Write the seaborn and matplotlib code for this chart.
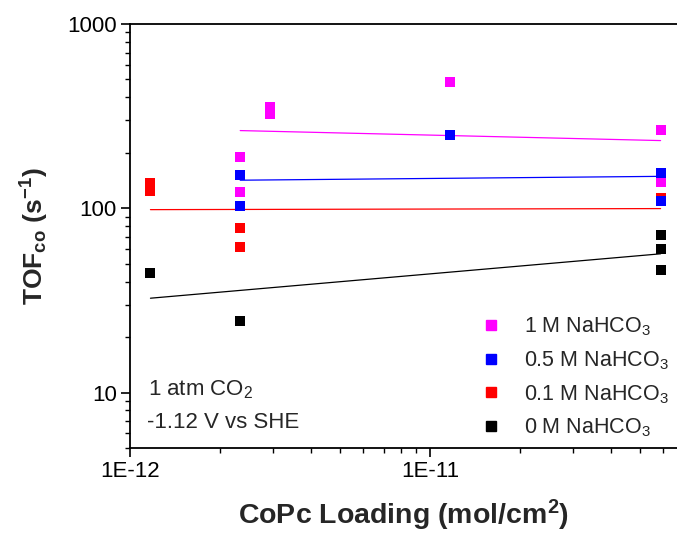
import numpy as np
import pandas as pd
import matplotlib
matplotlib.use("Agg")
import matplotlib.pyplot as plt
from matplotlib.lines import Line2D
import seaborn as sns

# ---- data ----
series_names = ["1 M NaHCO$_3$", "0.5 M NaHCO$_3$", "0.1 M NaHCO$_3$", "0 M NaHCO$_3$"]
series_colors = ["#FF00FF", "#0000FF", "#FF0000", "#000000"]

x_1M = [2.33e-12, 2.33e-12, 2.92e-12, 2.92e-12, 1.17e-11, 5.87e-11, 5.87e-11]
y_1M = [189, 123, 355, 323, 485, 266, 139]

x_05M = [2.33e-12, 2.33e-12, 1.17e-11, 5.87e-11, 5.87e-11]
y_05M = [151, 103, 251, 156, 109]

x_01M = [1.17e-12, 1.17e-12, 2.33e-12, 2.33e-12, 5.87e-11]
y_01M = [137, 124, 78, 61.5, 113]

x_0M = [1.17e-12, 2.33e-12, 5.87e-11, 5.87e-11, 5.87e-11]
y_0M = [44.5, 24.5, 71.3, 59.9, 46.4]

# fitted trend lines (end points)
fit_x_1M = [2.33e-12, 5.87e-11]
fit_y_1M = [264, 233]
fit_x_05M = [2.33e-12, 5.87e-11]
fit_y_05M = [142, 149]
fit_x_01M = [1.17e-12, 5.87e-11]
fit_y_01M = [98.3, 99.6]
fit_x_0M = [1.17e-12, 5.87e-11]
fit_y_0M = [32.5, 56.6]

x_ticks = [1e-12, 1e-11]
x_ticklabels = ["1E-12", "1E-11"]
y_ticks = [10, 100, 1000]
y_ticklabels = ["10", "100", "1000"]

# ---- style ----
sns.set_style("ticks")
plt.rcParams["font.family"] = ["Liberation Sans", "DejaVu Sans"]
plt.rcParams["mathtext.fontset"] = "custom"
plt.rcParams["mathtext.rm"] = "Liberation Sans"
plt.rcParams["mathtext.it"] = "Liberation Sans"
plt.rcParams["mathtext.bf"] = "Liberation Sans:bold"

fig = plt.figure(figsize=(6.77, 5.34), dpi=100)
ax = fig.add_axes([130 / 677, 1 - 448 / 534, 547 / 677, 424 / 534])

all_x = [x_0M, x_01M, x_1M, x_05M]
all_y = [y_0M, y_01M, y_1M, y_05M]
order = [3, 2, 0, 1]
fits = {0: (fit_x_1M, fit_y_1M), 1: (fit_x_05M, fit_y_05M),
        2: (fit_x_01M, fit_y_01M), 3: (fit_x_0M, fit_y_0M)}

# fit lines
for i in [3, 2, 1, 0]:
    fx, fy = fits[i]
    df_fit = pd.DataFrame({"x": fx, "y": fy})
    sns.lineplot(data=df_fit, x="x", y="y", color=series_colors[i], lw=0.9,
                 ax=ax, estimator=None, sort=False, zorder=2)

# points
for xs, ys, i in zip(all_x, all_y, order):
    df = pd.DataFrame({"x": xs, "y": ys})
    sns.scatterplot(data=df, x="x", y="y", color=series_colors[i], marker="s",
                    s=44, linewidth=0, ax=ax, zorder=3)

ax.set_xscale("log")
ax.set_yscale("log")
ax.set_xlim(1e-12, 10 ** (-12 + 547 / 300))
ax.set_ylim(5, 1000)

ax.set_xticks(x_ticks)
ax.set_xticklabels(x_ticklabels)
ax.set_yticks(y_ticks)
ax.set_yticklabels(y_ticklabels)
ax.xaxis.set_minor_locator(matplotlib.ticker.LogLocator(base=10, subs=np.arange(2, 10)))
ax.yaxis.set_minor_locator(matplotlib.ticker.LogLocator(base=10, subs=np.arange(2, 10)))
ax.xaxis.set_minor_formatter(matplotlib.ticker.NullFormatter())
ax.yaxis.set_minor_formatter(matplotlib.ticker.NullFormatter())

ax.tick_params(axis="both", which="major", direction="out", length=6.5, width=1.2,
               labelsize=16, color="black", labelcolor="black", pad=3)
ax.tick_params(axis="both", which="minor", direction="out", length=3.8, width=1.0,
               color="black")
ax.tick_params(axis="x", which="both", top=False)
ax.tick_params(axis="y", which="both", right=False)

for side in ["left", "bottom", "top"]:
    ax.spines[side].set_linewidth(1.3)
    ax.spines[side].set_color("black")
ax.spines["right"].set_visible(False)

ax.set_xlabel(r"CoPc Loading (mol/cm$^{\mathbf{2}}$)", fontsize=20.5, fontweight="bold",
              labelpad=11.5)
ax.set_ylabel(r"TOF$_{\mathbf{co}}$ (s$^{\mathbf{-1}}$)", fontsize=19, fontweight="bold",
              labelpad=12)

ax.text(0.033, 0.137, "1 atm CO$_2$", transform=ax.transAxes, fontsize=16,
        va="center", ha="left")
ax.text(0.031, 0.059, "-1.12 V vs SHE", transform=ax.transAxes, fontsize=16,
        va="center", ha="left")

handles = [Line2D([0], [0], marker="s", color="none", markerfacecolor=c,
                  markeredgecolor=c, markersize=6.5, linestyle="none")
           for c in series_colors]
ax.legend(handles, series_names, loc="upper left", bbox_to_anchor=(0.625, 0.333),
          frameon=False, fontsize=15.5, handlelength=1.0, handletextpad=1.0,
          labelspacing=0.52, borderaxespad=0)

fig.savefig("out.png", dpi=100)
